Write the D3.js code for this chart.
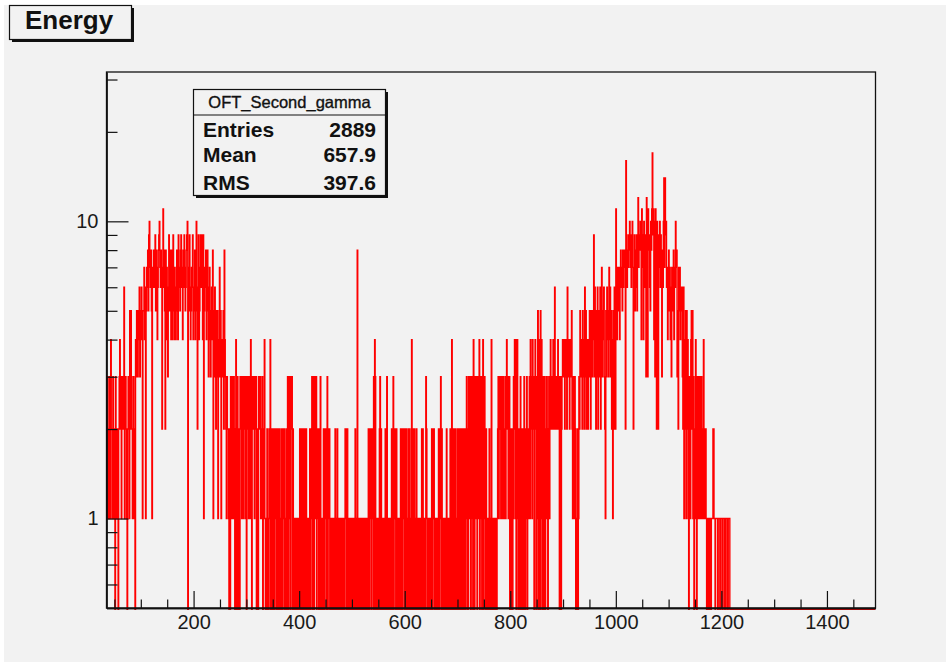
<!DOCTYPE html>
<html>
<head>
<meta charset="utf-8">
<script src="https://cdn.jsdelivr.net/npm/d3@7"></script>
<style>
  body { margin: 0; background: #ffffff; }
  svg { display: block; font-family: "Liberation Sans", Arial, Helvetica, sans-serif; }
</style>
</head>
<body>
<div id="chart"></div>
<script>
// histogram OFT_Second_gamma, 1-unit bins starting at 35 (one char per bin, base 36)
const binStart = 35;
const binWidth = 1;
const xRange = [35, 1492];
const yRange = [0.5, 31.8];

const countsLowPeak = [
  "2132123142", "2132120321", "2102342312", "3226123210", "2321525321",
  "2312043543", "5463546415", "5746157685", "9a76851768", "7695874689",
  "a768627b68", "5284763695", "6848469547", "6458649765", "8967486975",
  "689a075964", "5769465847", "a526945796", "8949157684", "5863475346",
  "4815364253", "5143735134", "3528432132", "2102031231", "2310240130",
  "2103231231", "2321302321", "3214203232", "1323021032", "2312130214"
];
const countsMiddle = [
  "1010201021", "4012012012", "2012021020", "1020212010", "2023023103",
  "2302101011", "0101012021", "0202102021", "0101020213", "0320312302",
  "1202031010", "1202120230", "2120101010", "1012010201", "0110101010",
  "1021202010", "1010110101", "0201080101", "1010100101", "0101012021",
  "2021203043", "0101010230", "2101010120", "2301010101", "2023021202",
  "1010101202", "0212021021", "0120210140", "1202101201", "0101010202",
  "1010132010", "1010102021", "2010110102", "0213021010", "1010210101"
];
const countsRise = [
  "0210401201", "2010210201", "2021020120", "2130203123", "0231042031",
  "2302314023", "1034023102", "1010120104", "0101011010", "1231232132",
  "1321231242", "3123021020", "1324140241", "0210302102", "0310213021",
  "2314231423", "0342031504", "2051402302", "3021320231", "2432324326",
  "3232342302", "3023434324", "3426434234", "3521321320", "1020132534",
  "4253426352", "4324354253"
];
const countsHighPeak = [
  "3549364253", "6254362473", "5463215364", "5374635241", "52632b6475",
  "7647867586", "7882g96879", "8a7968a726", "9586958c79", "8a94b794a8",
  "693c73b896", "5a8bh9b4a3", "b72a8297a6", "97386ae7e9", "a674685746",
  "37568476a7", "8352757465", "6326142515", "2410321452", "5130214203",
  "1321321321", "2412121010", "1101101112", "2110111101", "1101110111",
  "0110111011", "1"
];

const xMajor = [200, 400, 600, 800, 1000, 1200, 1400];
const xMinor = [50, 100, 150, 250, 300, 350, 450, 500, 550, 650, 700, 750, 850, 900, 950,
  1050, 1100, 1150, 1250, 1300, 1350, 1450];
const yMajor = [1, 10];
const yMinor = [0.6, 0.7, 0.8, 0.9, 2, 3, 4, 5, 6, 7, 8, 9, 20, 30];

const statsTitle = "OFT_Second_gamma";
const statsRows = [["Entries", "2889"], ["Mean", "657.9"], ["RMS", "397.6"]];

const counts = [...countsLowPeak, ...countsMiddle, ...countsRise, ...countsHighPeak]
  .join("").split("").map(c => parseInt(c, 36));

const W = 950, H = 667;
const frame = { left: 106.5, right: 875.5, top: 72, bottom: 608 };
const bg = "#f2f2f2";

const svg = d3.select("#chart").append("svg").attr("width", W).attr("height", H);
svg.append("rect").attr("x", 4).attr("y", 5).attr("width", 942).attr("height", 657).attr("fill", bg);

const x = d3.scaleLinear().domain(xRange).range([frame.left, frame.right]);
const y = d3.scaleLog().domain(yRange).range([frame.bottom, frame.top]);

svg.append("clipPath").attr("id", "clip")
  .append("rect").attr("x", frame.left).attr("y", frame.top - 1)
  .attr("width", frame.right - frame.left).attr("height", frame.bottom - frame.top + 3);

// step outline, empty bins drop to the bottom edge
const yOf = c => c > 0 ? y(c) : frame.bottom + 1.2;
const pts = [];
counts.forEach((c, i) => {
  const lo = binStart + i * binWidth;
  pts.push([x(lo), yOf(c)], [x(lo + binWidth), yOf(c)]);
});
// bins after the last filled one are empty
const lastEdge = binStart + counts.length * binWidth;
pts.push([x(lastEdge), yOf(0)], [x(xRange[1]), yOf(0)]);

svg.append("path")
  .attr("clip-path", "url(#clip)")
  .attr("d", d3.line()(pts))
  .attr("fill", "none")
  .attr("stroke", "#ff0000")
  .attr("stroke-width", 1.4);

// frame
svg.append("rect")
  .attr("x", frame.left).attr("y", frame.top)
  .attr("width", frame.right - frame.left).attr("height", frame.bottom - frame.top)
  .attr("fill", "none").attr("stroke", "#111").attr("stroke-width", 1.3);

// axes
svg.append("g").attr("transform", `translate(0,${frame.bottom})`)
  .call(d3.axisBottom(x).tickValues(xMajor).tickSize(-17).tickSizeOuter(0).tickPadding(7)
    .tickFormat(d3.format("d")));
svg.append("g").attr("transform", `translate(0,${frame.bottom})`)
  .call(d3.axisBottom(x).tickValues(xMinor).tickSize(-8.5).tickSizeOuter(0).tickFormat(""));

svg.append("g").attr("transform", `translate(${frame.left},0)`)
  .call(d3.axisLeft(y).tickValues(yMajor).tickSize(-22).tickSizeOuter(0).tickPadding(8)
    .tickFormat(d3.format("d")));
svg.append("g").attr("transform", `translate(${frame.left},0)`)
  .call(d3.axisLeft(y).tickValues(yMinor).tickSize(-11).tickSizeOuter(0).tickFormat(""));

svg.selectAll(".domain").attr("stroke", "#111").attr("stroke-width", 1.3);
svg.selectAll(".tick line").attr("stroke", "#111").attr("stroke-width", 1.2);
svg.selectAll(".tick text").attr("font-size", 20).attr("fill", "#1a1a1a")
  .attr("font-family", "Liberation Sans, Arial, sans-serif");

// title box
function shadowBox(x0, y0, w, h) {
  svg.append("rect").attr("x", x0 + 2.5).attr("y", y0 + 2.5).attr("width", w).attr("height", h).attr("fill", "#111");
  svg.append("rect").attr("x", x0).attr("y", y0).attr("width", w).attr("height", h)
    .attr("fill", bg).attr("stroke", "#111").attr("stroke-width", 1.2);
}
shadowBox(9.5, 5.5, 122, 34);
svg.append("text").attr("x", 25).attr("y", 28.5)
  .attr("font-size", 26).attr("font-weight", "bold").attr("fill", "#111").text("Energy");

// stats box
const sb = { x: 193.5, y: 89.5, w: 192, h: 106 };
shadowBox(sb.x, sb.y, sb.w, sb.h);
svg.append("line").attr("x1", sb.x).attr("x2", sb.x + sb.w).attr("y1", 115).attr("y2", 115)
  .attr("stroke", "#111").attr("stroke-width", 1.2);
svg.append("text").attr("x", sb.x + sb.w / 2).attr("y", 107.5).attr("text-anchor", "middle")
  .attr("font-size", 16.5).attr("fill", "#111").attr("stroke", "#111").attr("stroke-width", 0.35)
  .text(statsTitle);
const rowY = [136.7, 162.3, 190];
statsRows.forEach((r, i) => {
  svg.append("text").attr("x", 203).attr("y", rowY[i])
    .attr("font-size", 21).attr("font-weight", "bold").attr("fill", "#111").text(r[0]);
  svg.append("text").attr("x", 376).attr("y", rowY[i]).attr("text-anchor", "end")
    .attr("font-size", 21).attr("font-weight", "bold").attr("fill", "#111").text(r[1]);
});
</script>
</body>
</html>
